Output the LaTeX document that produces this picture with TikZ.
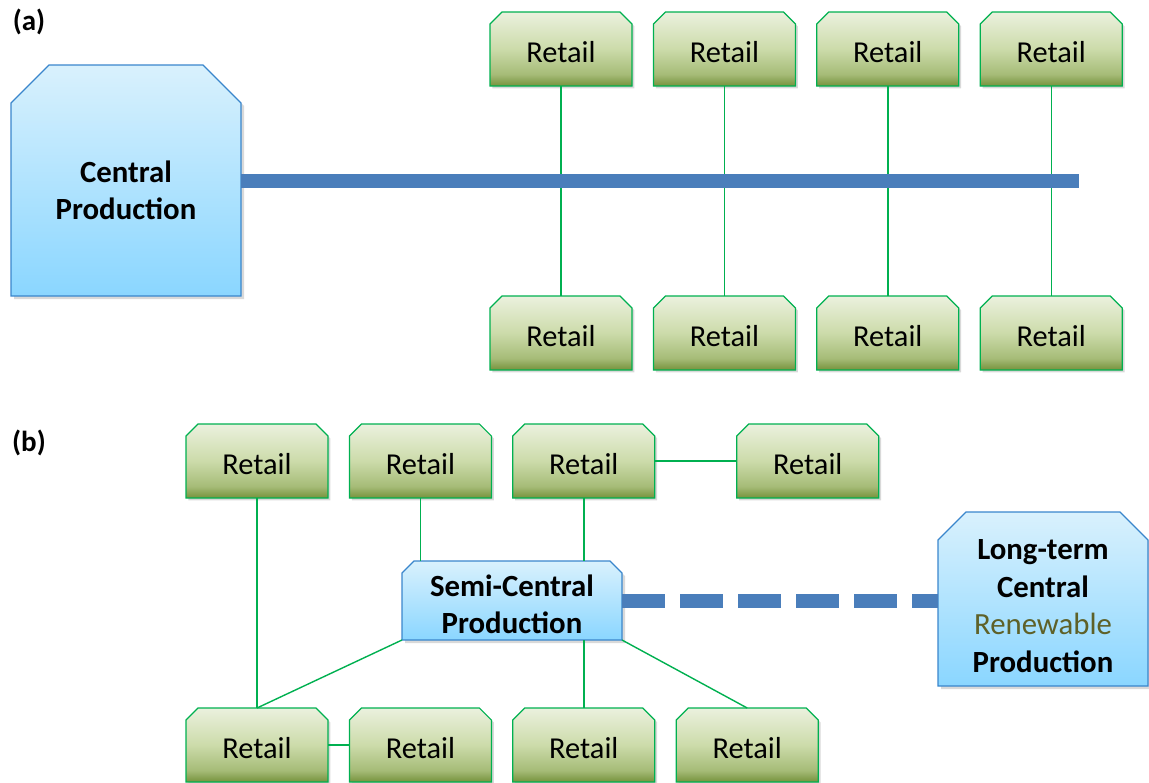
\documentclass[tikz,border=0pt]{standalone}
\usepackage{fontspec}
\setmainfont{Carlito}
\usetikzlibrary{positioning, shadows}

\definecolor{retailtop}{HTML}{EBF1DE}
\definecolor{retailmid}{HTML}{CCDBAA}
\definecolor{retaillow}{HTML}{A6BC78}
\definecolor{retailbot}{HTML}{76923C}
\definecolor{prodtop}{HTML}{D9F1FD}
\definecolor{prodbot}{HTML}{8AD6FF}
\definecolor{prodline}{HTML}{3A86CC}
\definecolor{linkgreen}{HTML}{00B050}
\definecolor{busblue}{HTML}{4A7EBB}
\definecolor{renewtext}{HTML}{5E6128}

\pgfdeclareverticalshading{retailshade}{100bp}{color(0bp)=(retailbot); color(25bp)=(retailbot); color(33bp)=(retaillow); color(50bp)=(retailmid); color(75bp)=(retailtop); color(100bp)=(retailtop)}

% box with the two top corners cut off
\makeatletter
\pgfkeys{/pgf/cut size/.initial=6pt}
\pgfdeclareshape{cutbox}{%
  \inheritsavedanchors[from=rectangle]%
  \inheritanchorborder[from=rectangle]%
  \inheritanchor[from=rectangle]{center}%
  \inheritanchor[from=rectangle]{text}%
  \inheritanchor[from=rectangle]{base}%
  \inheritanchor[from=rectangle]{north}%
  \inheritanchor[from=rectangle]{south}%
  \inheritanchor[from=rectangle]{east}%
  \inheritanchor[from=rectangle]{west}%
  \inheritanchor[from=rectangle]{north east}%
  \inheritanchor[from=rectangle]{north west}%
  \inheritanchor[from=rectangle]{south east}%
  \inheritanchor[from=rectangle]{south west}%
  \backgroundpath{%
    \pgfmathsetlengthmacro\cutsz{\pgfkeysvalueof{/pgf/cut size}}%
    \southwest \edef\cxa{\the\pgf@x}\edef\cya{\the\pgf@y}%
    \northeast \edef\cxb{\the\pgf@x}\edef\cyb{\the\pgf@y}%
    \pgfpathmoveto{\pgfpoint{\cxa}{\cya}}%
    \pgfpathlineto{\pgfpoint{\cxa}{\cyb-\cutsz}}%
    \pgfpathlineto{\pgfpoint{\cxa+\cutsz}{\cyb}}%
    \pgfpathlineto{\pgfpoint{\cxb-\cutsz}{\cyb}}%
    \pgfpathlineto{\pgfpoint{\cxb}{\cyb-\cutsz}}%
    \pgfpathlineto{\pgfpoint{\cxb}{\cya}}%
    \pgfpathclose
  }%
}
\makeatother

\begin{document}
\begin{tikzpicture}[x=0.5pt, y=-0.5pt, node distance=10.7pt, font=\fontsize{15.2}{18.6}\selectfont]

    \tikzstyle{retail}=[cutbox, cut size=6pt, draw=linkgreen, line width=0.6pt, shading=retailshade, minimum width=71pt, minimum height=37pt, inner sep=0pt, outer sep=0pt, text height=13pt, text depth=0pt, drop shadow={shadow xshift=1.2pt, shadow yshift=-1.2pt, opacity=.3}]
    \tikzstyle{prod}=[cutbox, draw=prodline, line width=0.6pt, top color=prodtop, bottom color=prodbot, inner sep=0pt, outer sep=0pt, align=center, text depth=0pt, font=\fontsize{15.4}{18.7}\selectfont\bfseries, drop shadow={shadow xshift=1.5pt, shadow yshift=-1.5pt, opacity=.3}]
    \tikzstyle{tag}=[font=\fontsize{14.5}{17}\selectfont\bfseries, inner sep=0pt]

    \tikzstyle{link}=[linkgreen, line width=0.7pt]
    \tikzstyle{bus}=[busblue, line width=7pt]
    \tikzstyle{feed}=[busblue, line width=7pt, dash pattern=on 21.5pt off 7.5pt]

    \useasboundingbox (0,0) rectangle (1149,782);

    % (a) central production
    \node[tag] (taga) at (29,22) {(a)};

    \node[retail] (ta1) at (561,49) {Retail};
    \node[retail, right=of ta1] (ta2) {Retail};
    \node[retail, right=of ta2] (ta3) {Retail};
    \node[retail, right=of ta3] (ta4) {Retail};

    \node[retail] (ba1) at (561,333) {Retail};
    \node[retail, right=of ba1] (ba2) {Retail};
    \node[retail, right=of ba2] (ba3) {Retail};
    \node[retail, right=of ba3] (ba4) {Retail};

    \node[prod, minimum width=115pt, minimum height=115.5pt, cut size=19pt, text height=39pt] (central) at (126,180.5) {Central\\Production};

    \draw[link] (ta1) -- (ba1);
    \draw[link] (ta2) -- (ba2);
    \draw[link] (ta3) -- (ba3);
    \draw[link] (ta4) -- (ba4);

    \coordinate (busend) at (1079,180.5);
    \draw[bus] (central.east) -- (busend);

    % (b) semi-central production
    \node[tag] (tagb) at (29,443) {(b)};

    \node[retail] (tb1) at (257,461) {Retail};
    \node[retail, right=of tb1] (tb2) {Retail};
    \node[retail, right=of tb2] (tb3) {Retail};
    \node[retail, right=41pt of tb3] (tb4) {Retail};

    \node[retail] (bb1) at (257,745) {Retail};
    \node[retail, right=of bb1] (bb2) {Retail};
    \node[retail, right=of bb2] (bb3) {Retail};
    \node[retail, right=of bb3] (bb4) {Retail};

    \node[prod, minimum width=110pt, minimum height=39.5pt, cut size=6pt, text height=33pt] (semi) at (512,600.5) {Semi-Central\\Production};
    \node[prod, minimum width=105pt, minimum height=87pt, cut size=14pt, text height=73pt] (longterm) at (1043,599) {Long-term\\Central\\{\mdseries\color{renewtext}Renewable}\\Production};

    \draw[link] (tb1) -- (bb1);
    \draw[link] (tb2.south) -- (tb2.south |- semi.north);
    \draw[link] (tb3.south) -- (tb3.south |- semi.north);
    \draw[link] (tb3) -- (tb4);
    \draw[link] (semi.south west) -- (bb1.north);
    \draw[link] (bb1) -- (bb2);
    \draw[link] (semi.south -| bb3.north) -- (bb3.north);
    \draw[link] (semi.south east) -- (bb4.north);

    \draw[feed] (semi.east) -- (semi.east -| longterm.west);

\end{tikzpicture}
\end{document}
